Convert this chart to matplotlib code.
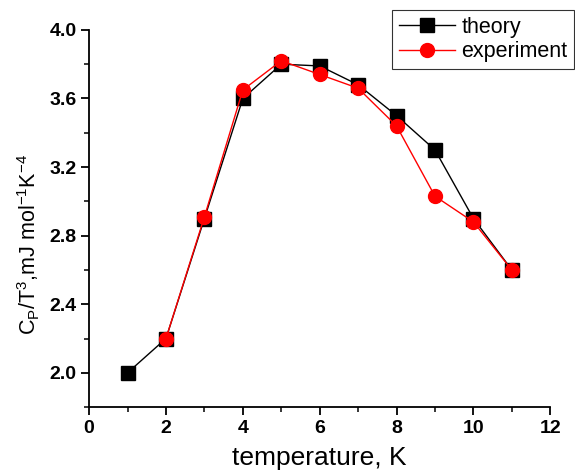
import matplotlib
matplotlib.use("Agg")
import matplotlib.pyplot as plt
from matplotlib.ticker import MultipleLocator

plt.rcParams['font.family'] = ['Liberation Sans', 'DejaVu Sans']
plt.rcParams['mathtext.default'] = 'regular'

# data
temp_theory = [1, 2, 3, 4, 5, 6, 7, 8, 9, 10, 11]
cp_theory = [2.0, 2.2, 2.9, 3.6, 3.8, 3.79, 3.68, 3.5, 3.3, 2.9, 2.6]
temp_exp = [2, 3, 4, 5, 6, 7, 8, 9, 10, 11]
cp_exp = [2.2, 2.91, 3.65, 3.82, 3.74, 3.66, 3.44, 3.03, 2.88, 2.6]

fig = plt.figure(figsize=(5.75, 4.75), dpi=100)
ax = fig.add_axes([0.155, 0.143, 0.802, 0.794])

ax.plot(temp_theory, cp_theory, color='black', lw=1, marker='s', ms=9.5,
        label='theory', zorder=2)
ax.plot(temp_exp, cp_exp, color='red', lw=1, marker='o', ms=10,
        label='experiment', zorder=3)

ax.set_xlim(0, 12)
ax.set_ylim(1.8, 4.0)
ax.xaxis.set_major_locator(MultipleLocator(2))
ax.xaxis.set_minor_locator(MultipleLocator(1))
ax.yaxis.set_minor_locator(MultipleLocator(0.2))
ax.set_yticks([2.0, 2.4, 2.8, 3.2, 3.6, 4.0])

for s in ['top', 'right']:
    ax.spines[s].set_visible(False)
for s in ['left', 'bottom']:
    ax.spines[s].set_linewidth(1.3)

ax.tick_params(which='major', direction='out', length=6, width=1.3,
               labelsize=14, pad=3)
ax.tick_params(which='minor', direction='out', length=3.5, width=1.1)
for lab in ax.get_xticklabels() + ax.get_yticklabels():
    lab.set_fontweight('bold')

ax.set_xlabel('temperature, K', fontsize=19, labelpad=7)
ax.set_ylabel('C$_P$/T$^3$,mJ mol$^{-1}$K$^{-4}$', fontsize=15.5)
ax.yaxis.set_label_coords(-0.103, 0.43)

leg = fig.legend(loc='upper right', bbox_to_anchor=(0.998, 0.978),
                 fontsize=15.5, frameon=True, fancybox=False,
                 edgecolor='black', handlelength=2.6, borderpad=0.3,
                 labelspacing=0.15, handletextpad=0.3, borderaxespad=0)
leg.get_frame().set_linewidth(0.8)

fig.savefig('out.png', dpi=100)
